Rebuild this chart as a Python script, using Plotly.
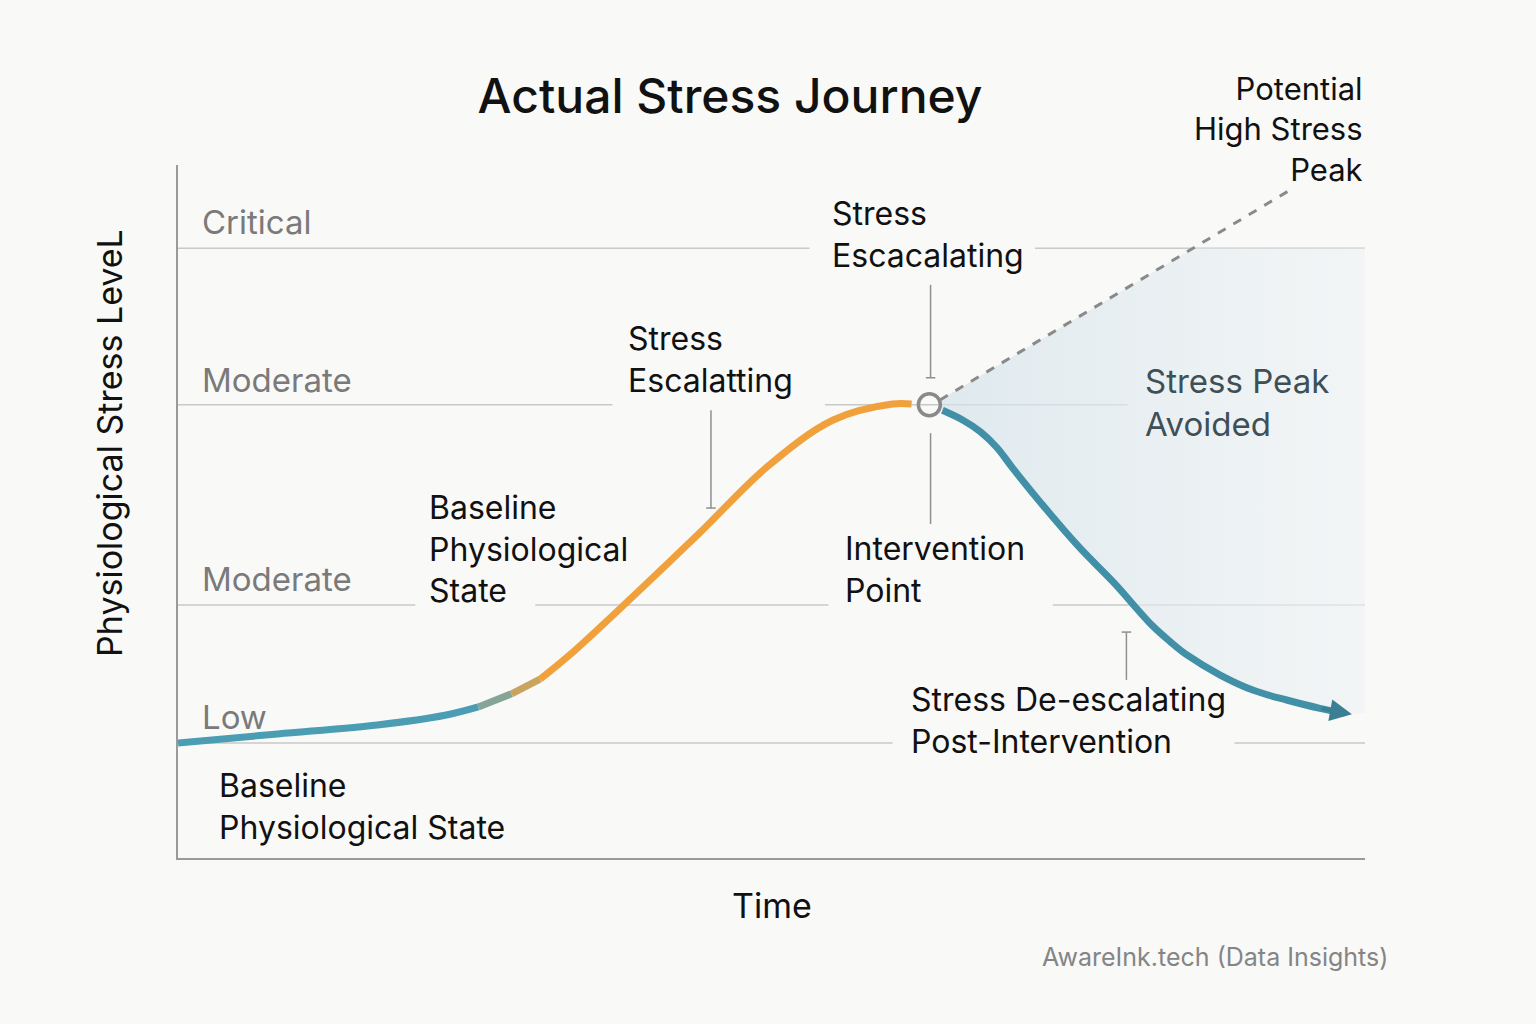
import plotly.graph_objects as go

# Stress journey data (time 0-100, stress 0-100)
rise_x = [0.0, 8.4, 16.8, 22.5, 25.3, 28.1, 30.5, 33.0, 38.3, 44.0, 49.6, 55.2, 60.2, 61.8]
rise_y = [16.6, 17.9, 19.2, 20.6, 21.8, 23.7, 25.8, 29.3, 37.7, 47.0, 56.4, 63.2, 65.5, 65.5]
fall_x = [64.4, 66.1, 67.6, 69.0, 70.3, 73.2, 76.0, 78.8, 82.1, 83.6, 85.0, 87.8, 90.6, 93.4, 96.2, 98.3]
fall_y = [64.6, 63.2, 61.5, 59.2, 56.3, 50.2, 44.7, 39.8, 33.5, 31.2, 29.3, 26.4, 24.2, 22.8, 21.6, 20.9]

intervention = (63.3, 65.4)
potential_x = [64.2, 93.7]
potential_y = [66.1, 96.4]

level_names = ["Low", "Moderate", "Moderate", "Critical"]
level_values = [16.6, 36.5, 65.4, 88.0]

FONT = "Inter"
BG = "#f9f9f8"
GRID = "#c9c9c9"
TEAL = "#4b9db4"
ORANGE = "#f1a13b"


def curve(x, y, color, spline=True):
    return go.Scatter(x=x, y=y, mode="lines", line_shape="spline" if spline else "linear",
                      line=dict(color=color, width=7), hoverinfo="skip", showlegend=False)


fig = go.Figure()

# shaded "avoided" area: dashed line up to critical, right edge, back along falling curve
t = (level_values[3] - potential_y[0]) / (potential_y[1] - potential_y[0])
cross_x = potential_x[0] + t * (potential_x[1] - potential_x[0])
poly_x = [potential_x[0], cross_x, 100, 100] + fall_x[::-1]
poly_y = [potential_y[0], level_values[3], level_values[3], fall_y[-1]] + fall_y[::-1]
fig.add_trace(go.Scatter(
    x=poly_x, y=poly_y, mode="lines", fill="toself", line=dict(width=0),
    fillgradient=dict(type="horizontal",
                      colorscale=[[0, "rgba(212,227,234,0.7)"], [1, "rgba(238,242,244,0.6)"]]),
    hoverinfo="skip", showlegend=False))

# gridlines with gaps for labels
grid_segments = [
    (level_values[3], [(0, 53.2), (72.2, 100)]),
    (level_values[2], [(0, 36.6), (54.5, 80.0)]),
    (level_values[1], [(0, 20.0), (30.1, 54.8), (73.7, 100)]),
    (level_values[0], [(0, 60.2), (89.0, 100)]),
]
for yv, segs in grid_segments:
    for x0, x1 in segs:
        fig.add_shape(type="line", x0=x0, x1=x1, y0=yv, y1=yv, layer="below",
                      line=dict(color=GRID, width=1.5))

# leader lines
leaders = [(44.9, 64.6, 50.5, "bottom"), (63.4, 82.7, 69.3, "bottom"),
           (63.4, 61.3, 48.2, None), (79.9, 32.6, 25.7, "top")]
for lx, y0, y1, tick in leaders:
    fig.add_shape(type="line", x0=lx, x1=lx, y0=y0, y1=y1, line=dict(color="#8f8f8f", width=1.5))
    if tick == "bottom":
        fig.add_shape(type="line", x0=lx - 0.4, x1=lx + 0.4, y0=y1, y1=y1, line=dict(color="#8f8f8f", width=1.5))
    elif tick == "top":
        fig.add_shape(type="line", x0=lx - 0.4, x1=lx + 0.4, y0=y0, y1=y0, line=dict(color="#8f8f8f", width=1.5))

# potential peak dashed line
fig.add_trace(go.Scatter(x=potential_x, y=potential_y, mode="lines",
                         line=dict(color="#8a8a8a", width=3, dash="dash"),
                         hoverinfo="skip", showlegend=False))

# rising curve: teal, short colour blend, orange
fig.add_trace(curve(rise_x[:5], rise_y[:5], TEAL))
fig.add_trace(curve(rise_x[4:6], rise_y[4:6], "#86a596", spline=False))
fig.add_trace(curve(rise_x[5:7], rise_y[5:7], "#c9a45e", spline=False))
fig.add_trace(curve(rise_x[6:], rise_y[6:], ORANGE))

# falling curve with arrow head
fig.add_trace(curve(fall_x, fall_y, "#4290a7"))
fig.add_annotation(x=fall_x[-1] + 0.6, y=fall_y[-1] - 0.15, ax=fall_x[-2], ay=fall_y[-2],
                   xref="x", yref="y", axref="x", ayref="y", text="", showarrow=True,
                   arrowhead=2, arrowsize=1.1, arrowwidth=4, arrowcolor="#3b7f95", standoff=0)

# intervention marker
fig.add_trace(go.Scatter(x=[intervention[0]], y=[intervention[1]], mode="markers",
                         marker=dict(symbol="circle-open", size=22, color="#8a8a8a",
                                     line=dict(width=3.5, color="#8a8a8a")),
                         hoverinfo="skip", showlegend=False))

# level labels
level_label_y = [20.3, 40.3, 69.0, 91.8]
for name, ly in zip(level_names, level_label_y):
    fig.add_annotation(x=1.85, y=ly, text=name, showarrow=False, xanchor="left", yanchor="middle",
                       font=dict(family=FONT, size=33, color="#7a7a7a"))

notes = [
    (3.3, 7.5, "Baseline<br>Physiological State"),
    (21.0, 44.6, "Baseline<br>Physiological<br>State"),
    (37.7, 71.9, "Stress<br>Escalatting"),
    (54.9, 89.9, "Stress<br>Escacalating"),
    (56.0, 41.6, "Intervention<br>Point"),
    (61.6, 19.8, "Stress De-escalating<br>Post-Intervention"),
]
for nx, ny, txt in notes:
    fig.add_annotation(x=nx, y=ny, text=txt, showarrow=False, xanchor="left", yanchor="middle",
                       align="left", font=dict(family=FONT, size=32, color="#111111"))

fig.add_annotation(x=81.3, y=65.7, text="Stress Peak<br>Avoided", showarrow=False,
                   xanchor="left", yanchor="middle", align="left",
                   font=dict(family=FONT, size=33, color="#3e5056"))
fig.add_annotation(xref="paper", yref="paper", x=1.0, y=1.052,
                   text="Potential<br>High Stress<br>Peak", showarrow=False,
                   xanchor="right", yanchor="middle", align="right",
                   font=dict(family=FONT, size=31, color="#111111"))

# axis titles and footer
fig.add_annotation(xref="paper", yref="paper", x=-0.0573, y=0.599, text="Physiological Stress LeveL",
                   textangle=-90, showarrow=False, xanchor="center", yanchor="middle",
                   font=dict(family=FONT, size=34, color="#111111"))
fig.add_annotation(xref="paper", yref="paper", x=0.5, y=-0.068, text="Time", showarrow=False,
                   xanchor="center", yanchor="middle", font=dict(family=FONT, size=34, color="#111111"))
fig.add_annotation(xref="paper", yref="paper", x=1.021, y=-0.143, text="AwareInk.tech (Data Insights)",
                   showarrow=False, xanchor="right", yanchor="middle",
                   font=dict(family=FONT, size=25, color="#858585"))

fig.update_layout(
    width=1536, height=1024,
    margin=dict(l=178, r=171, t=165, b=166),
    paper_bgcolor=BG, plot_bgcolor=BG,
    title=dict(text="Actual Stress Journey", x=730 / 1536, xanchor="center",
               y=1 - 96 / 1024, yanchor="middle",
               font=dict(family=FONT, size=48, color="#111111", weight=500)),
    xaxis=dict(range=[0, 100], showgrid=False, zeroline=False, showticklabels=False,
               showline=True, linecolor="#9a9a9a", linewidth=2, ticks=""),
    yaxis=dict(range=[0, 100], showgrid=False, zeroline=False, showticklabels=False,
               showline=True, linecolor="#9a9a9a", linewidth=2, ticks=""),
    showlegend=False,
)

fig.write_html("out.html", config={"displayModeBar": False},
               post_script="document.body.style.margin='0';document.body.style.overflow='hidden';")
